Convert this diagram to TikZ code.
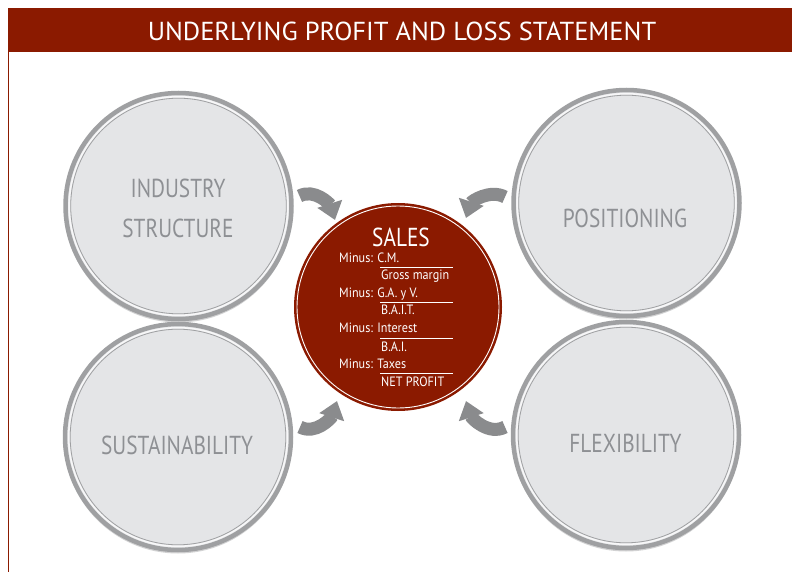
\documentclass[tikz,border=0pt]{standalone}
\usepackage{fontspec}
\setmainfont{PT Sans}[FakeStretch=0.82]
\newfontfamily\titlefont{PT Sans}[FakeStretch=1.02]
\newfontfamily\smallfont{PT Sans}[FakeStretch=0.9]
\usetikzlibrary{arrows.meta}
\definecolor{darkred}{HTML}{8B1A00}
\definecolor{ringgrey}{HTML}{9FA0A2}
\definecolor{fillgrey}{HTML}{E4E5E7}
\definecolor{labelgrey}{HTML}{8E9094}
\definecolor{arrowgrey}{HTML}{8A8B8D}
\tikzset{
  bigcircle/.style={circle, minimum size=#1, inner sep=0pt, fill=fillgrey, draw=ringgrey, line width=4.5pt},
  innerring/.style={draw=white!92!ringgrey, line width=1.6pt},
  innerline/.style={draw=ringgrey, line width=0.8pt},
  clabel/.style={text=labelgrey, font=\fontsize{26}{30}\selectfont, anchor=base},
  rtext/.style={text=white, font=\smallfont\fontsize{13.5}{15}\selectfont, anchor=base west, inner sep=0pt},
  rline/.style={draw=white, line width=0.8pt},
  bendarrow/.style={draw=arrowgrey, line width=13pt, -{Triangle[length=17pt,width=25pt]}},
}
\begin{document}
\begin{tikzpicture}[x=1pt,y=-1pt]
\useasboundingbox (0,0) rectangle (792,572);
\fill[white] (0,0) rectangle (792,572);
% title bar
\fill[darkred] (7.5,8) rectangle (792,52);
\draw[darkred, line width=1.6pt] (8.3,52) -- (8.3,572);
\node[text=white, font=\titlefont\fontsize{26}{30}\selectfont] (title) at (402,31) {UNDERLYING PROFIT AND LOSS STATEMENT};

% grey circles with shadow
\foreach \n/\cx/\cy in {ind/178.5/206, pos/626.5/203, sus/178/437, flex/626/435}{
  \fill[ringgrey!80!black, opacity=0.35] (\cx,\cy+2.5) circle (114);
  \node[bigcircle=226pt] (\n) at (\cx,\cy) {};
  \draw[innerring] (\cx,\cy) circle (109.3);
  \draw[innerline] (\cx,\cy) circle (107.8);
}
\node[clabel] (indA) at (178,197) {INDUSTRY};
\node[clabel] (indB) at (178,237) {STRUCTURE};
\node[clabel] (posl) at (625,227) {POSITIONING};
\node[clabel] (susl) at (177,454) {SUSTAINABILITY};
\node[clabel] (flexl) at (625.5,452) {FLEXIBILITY};

% central red circle
\node[circle, minimum size=208pt, inner sep=0pt, fill=darkred] (sales) at (398,307) {};
\draw[white, line width=0.9pt] (398,307) circle (101);
\node[text=white, font=\fontsize{26}{30}\selectfont, anchor=base, inner sep=0pt] (salest) at (401,246) {SALES};
\node[rtext] (m1) at (339,262.5) {Minus: C.M.};
\node[rtext] (r1) at (381,279) {Gross margin};
\node[rtext] (m2) at (339,297) {Minus: G.A. y V.};
\node[rtext] (r2) at (381,314) {B.A.I.T.};
\node[rtext] (m3) at (339,332) {Minus: Interest};
\node[rtext] (r3) at (381,351) {B.A.I.};
\node[rtext] (m4) at (339,368) {Minus: Taxes};
\node[rtext] (r4) at (381,386) {NET PROFIT};
\foreach \y/\k in {267/a,302/b,338/c,373/d}{
  \coordinate (l\k1) at (380,\y);
  \coordinate (l\k2) at (453,\y);
  \draw[rline] (l\k1) -- (l\k2);
}

% curved arrows
\coordinate (a1s) at (299.5,196);
\coordinate (a1e) at (335,220);
\coordinate (a2s) at (505,197);
\coordinate (a2e) at (466,218);
\coordinate (a3s) at (300,427);
\coordinate (a3e) at (337,401);
\coordinate (a4s) at (505,427);
\coordinate (a4e) at (466,401);
\draw[bendarrow] (a1s) to[out=28, in=108] (a1e);
\draw[bendarrow] (a2s) to[out=152, in=72] (a2e);
\draw[bendarrow] (a3s) to[out=-28, in=-108] (a3e);
\draw[bendarrow] (a4s) to[out=208, in=-72] (a4e);
\end{tikzpicture}
\end{document}
